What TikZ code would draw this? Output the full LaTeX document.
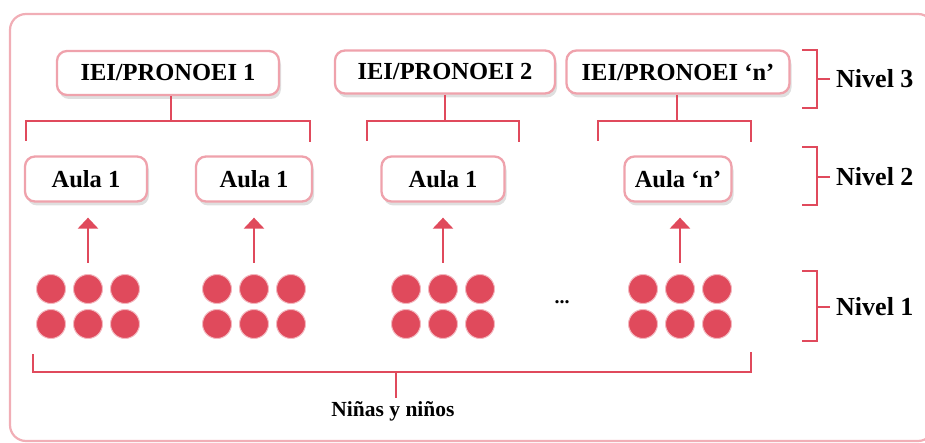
\documentclass[tikz,border=0pt]{standalone}
\usepackage{fontspec}
\setmainfont{Liberation Serif}
\usetikzlibrary{shadows,arrows.meta}
\definecolor{rojo}{HTML}{E04A5C}
\definecolor{rosa}{HTML}{EFA2AC}
\definecolor{marco}{HTML}{F1AEB6}
\tikzset{
  caja/.style={draw=rosa, line width=2.3pt, fill=white, rounded corners=10pt,
    inner sep=0pt, font=\fontsize{24.5}{24.5}\selectfont\bfseries,
    drop shadow={opacity=0.25, shadow xshift=2pt, shadow yshift=-4pt}},
  linea/.style={draw=rojo, line width=2.6pt},
  punto/.style={circle, fill=rojo, draw=rojo!40, line width=1pt, minimum size=29pt, inner sep=0pt},
  flecha/.style={draw=rojo, line width=2.6pt, -{Triangle[width=20pt,length=11pt]}},
  etiqueta/.style={font=\fontsize{26}{26}\selectfont\bfseries, anchor=west, inner sep=0pt},
}
\begin{document}
\begin{tikzpicture}[x=1pt,y=-1pt]
\useasboundingbox (0,0) rectangle (925,443);
\clip (0,0) rectangle (925,443);
\draw[marco, line width=2.2pt, rounded corners=16pt] (10,14) rectangle (934,441);

% Level 3 boxes
\node[caja, minimum width=222pt, minimum height=44pt] (iei1) at (168,73) {IEI/PRONOEI 1};
\node[caja, minimum width=220pt, minimum height=43pt] (iei2) at (445,72) {IEI/PRONOEI 2};
\node[caja, minimum width=223pt, minimum height=43pt] (ieiN) at (678,72) {IEI/PRONOEI `n'};

% Level 2 boxes
\node[caja, minimum width=122pt, minimum height=45pt] (a1) at (86,179) {Aula 1};
\node[caja, minimum width=116pt, minimum height=45pt] (a2) at (254,179) {Aula 1};
\node[caja, minimum width=123pt, minimum height=45pt] (a3) at (443,179) {Aula 1};
\node[caja, minimum width=107pt, minimum height=45pt] (aN) at (678,179) {Aula `n'};

% brackets under level 3
\coordinate (b1) at (171,121);
\coordinate (b2) at (445,121);
\coordinate (bN) at (677,121);
\draw[linea] (iei1.south -| b1) -- (b1);
\draw[linea] (26,141) -- (26,121) -- (310,121) -- (310,142);
\draw[linea] (iei2.south -| b2) -- (b2);
\draw[linea] (367,141) -- (367,121) -- (519,121) -- (519,142);
\draw[linea] (ieiN.south -| bN) -- (bN);
\draw[linea] (598,141) -- (598,121) -- (751,121) -- (751,142);

% dots
\foreach \g/\cx in {1/88, 2/254, 3/443, 4/680}{
  \foreach \i/\dx in {1/-37, 2/0, 3/37}{
    \node[punto] (d\g t\i) at (\cx+\dx,289) {};
    \node[punto] (d\g b\i) at (\cx+\dx,324) {};
  }
}
\node[font=\fontsize{20}{20}\selectfont\bfseries] (dots) at (562,302) {...};

% arrows
\coordinate (s1) at (88,263);
\coordinate (s2) at (254,263);
\coordinate (s3) at (443,263);
\coordinate (s4) at (680,263);
\draw[flecha] (s1) -- ([yshift=-15pt]s1 |- a1.south);
\draw[flecha] (s2) -- ([yshift=-15pt]s2 |- a2.south);
\draw[flecha] (s3) -- ([yshift=-15pt]s3 |- a3.south);
\draw[flecha] (s4) -- ([yshift=-15pt]s4 |- aN.south);

% bottom bracket
\coordinate (nb) at (396,372);
\node[font=\fontsize{21.5}{21.5}\selectfont\bfseries] (ninos) at (393,411) {Niñas y niños};
\draw[linea] (33,354) -- (33,372) -- (751,372) -- (751,352);
\draw[linea] (nb) -- (nb |- ninos.north);

% level brackets
\node[etiqueta] (n3) at (836,79) {Nivel 3};
\node[etiqueta] (n2) at (836,177) {Nivel 2};
\node[etiqueta] (n1) at (836,307) {Nivel 1};
\draw[linea] (802,50) -- (817,50) -- (817,108) -- (802,108);
\draw[linea] (817,79) -- ([xshift=-6pt]n3.west);
\draw[linea] (802,147) -- (817,147) -- (817,205) -- (802,205);
\draw[linea] (817,177) -- ([xshift=-6pt]n2.west);
\draw[linea] (802,271) -- (817,271) -- (817,341) -- (802,341);
\draw[linea] (817,307) -- ([xshift=-6pt]n1.west);
\end{tikzpicture}
\end{document}
